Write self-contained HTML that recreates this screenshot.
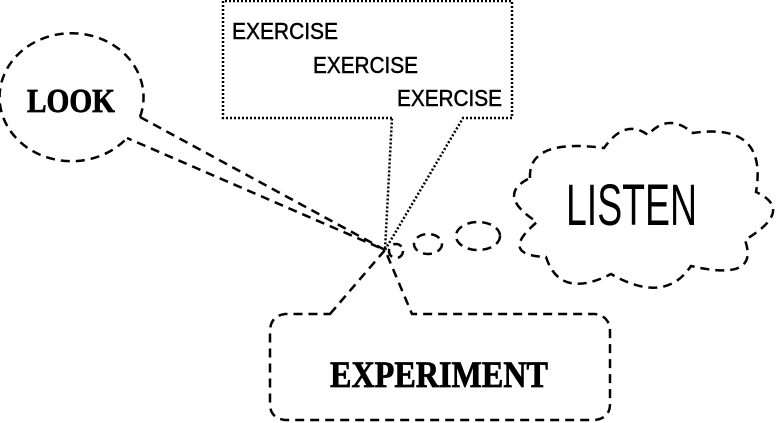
<!DOCTYPE html>
<html><head><meta charset="utf-8"><style>
html,body{margin:0;padding:0;background:#fff;}
svg{display:block}
</style></head><body>
<svg width="781" height="423" viewBox="0 0 781 423" xmlns="http://www.w3.org/2000/svg">
<g fill="none" stroke="#000" stroke-width="2.5" stroke-dasharray="9,6">
  <path d="M140,117 A72,64 0 1 0 127,138"/>
  <path d="M140,117 L385,250 L127,138"/>
  <path d="M330,314 L385,250 L412,314 L595,314 Q610,316 610,332 L610,404 Q610,418 595,420 L285,420 Q270,418 270,404 L270,332 Q270,316 285,314 Z"/>
  <ellipse cx="396" cy="251" rx="7" ry="7"/>
  <ellipse cx="428" cy="244" rx="14" ry="10"/>
  <ellipse cx="478" cy="236" rx="22" ry="14"/>
  <path d="M530,178 Q528,138 604,148 Q625,118 648,135 Q668,112 693,133 Q768,122 756,192 Q795,210 745,240 Q760,282 691,266 Q665,305 611,274 Q560,300 546,257 Q498,255 537,222 Q495,195 530,178 Z"/>
</g>
<g fill="none" stroke="#000" stroke-width="2.5" stroke-dasharray="2,2">
  <path d="M392,118 L223,118 L223,1 L512,1 L512,118 L463,118 L385,250 L392,118"/>
</g>
<g font-family="Liberation Sans, sans-serif">
  <text x="27" y="112" font-family="Liberation Serif, serif" font-weight="bold" font-size="34" textLength="88" lengthAdjust="spacingAndGlyphs" stroke="#000" stroke-width="0.8">LOOK</text>
  <text x="232" y="39" font-size="23" textLength="106" lengthAdjust="spacingAndGlyphs" stroke="#000" stroke-width="0.5">EXERCISE</text>
  <text x="313" y="73" font-size="23" textLength="105" lengthAdjust="spacingAndGlyphs" stroke="#000" stroke-width="0.5">EXERCISE</text>
  <text x="397" y="106" font-size="23" textLength="105" lengthAdjust="spacingAndGlyphs" stroke="#000" stroke-width="0.5">EXERCISE</text>
  <text x="566" y="225" font-size="58" textLength="131" lengthAdjust="spacingAndGlyphs">LISTEN</text>
  <text x="330" y="387" font-family="Liberation Serif, serif" font-weight="bold" font-size="37" textLength="218" lengthAdjust="spacingAndGlyphs" stroke="#000" stroke-width="0.8">EXPERIMENT</text>
</g>
</svg>
</body></html>
